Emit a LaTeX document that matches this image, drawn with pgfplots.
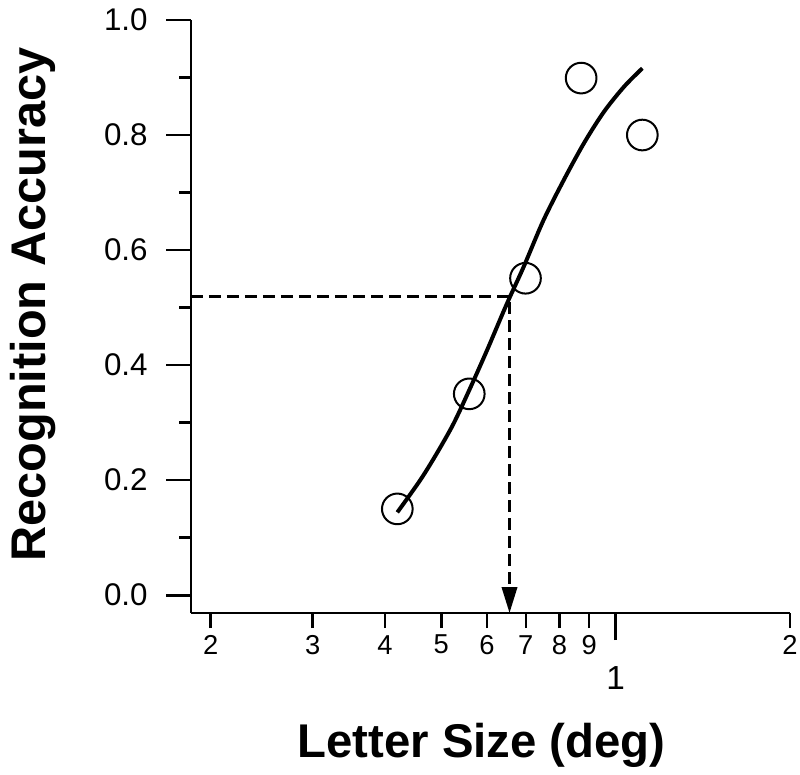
\documentclass[border=0pt]{standalone}
\usepackage{fontspec}
\setmainfont{Liberation Sans}
\usepackage{pgfplots}
\pgfplotsset{compat=1.18}
\usetikzlibrary{arrows.meta}

\begin{document}
\begin{tikzpicture}
% 1 px of the reference = 0.3pt
\useasboundingbox (-57.3pt,-48.3pt) rectangle (182.7pt,183.9pt);
\begin{axis}[
  at={(0,0)}, anchor=south west,
  scale only axis, width=179.7pt, height=177.9pt,
  xmode=log, xmin=0.185, xmax=2.0, ymin=-0.031, ymax=1.0,
  axis lines=left, axis line style={-, line width=0.8pt},
  every tick/.style={black, line width=0.8pt},
  tick align=outside,
  major tick length=4.5pt, minor tick length=3.6pt,
  ytick={0,0.2,0.4,0.6,0.8,1.0}, minor y tick num=1,
  ytick style={/pgfplots/major tick length=7.5pt},
  yticklabel style={font=\fontsize{9.4}{11}\selectfont, anchor=east, xshift=-5pt,
    /pgf/number format/.cd, fixed, fixed zerofill, precision=1, assume math mode=true},
  xtick={0.2,0.3,0.4,0.5,0.6,0.7,0.8,0.9,2},
  xticklabels={2,3,4,5,6,7,8,9,2},
  minor xtick={},
  xticklabel style={font=\fontsize{8.2}{10}\selectfont, anchor=center, yshift=-5pt},
  extra x ticks={1}, extra x tick labels={1},
  extra x tick style={/pgfplots/major tick length=8.1pt,
    xticklabel style={font=\fontsize{10}{12}\selectfont, yshift=-6.3pt}},
  xlabel={\bfseries Letter Size (deg)},
  ylabel={\bfseries Recognition Accuracy},
  every axis x label/.style={at={(axis description cs:0.485,0)}, yshift=-39.6pt,
    anchor=center, font=\fontsize{14.2}{17}\selectfont},
  every axis y label/.style={at={(axis description cs:0,0.52)}, xshift=-47.4pt,
    rotate=90, anchor=center, font=\fontsize{14.6}{17}\selectfont},
  clip=false,
]
% fitted curve
\addplot[black, line width=1.2pt, smooth] coordinates {
  (0.420,0.144) (0.460,0.200) (0.491,0.246) (0.525,0.298) (0.561,0.360)
  (0.600,0.426) (0.641,0.494) (0.656,0.517) (0.694,0.571) (0.751,0.652)
  (0.814,0.722) (0.882,0.786) (0.954,0.840) (1.034,0.884) (1.112,0.916)};
% observed data
\addplot[only marks, mark=o, mark size=4.6pt, mark options={line width=0.6pt, black}] coordinates {
  (0.420,0.150) (0.559,0.350) (0.699,0.551) (0.872,0.899) (1.112,0.800)};
% threshold
\addplot[black, line width=0.8pt, dash pattern=on 3.6pt off 1.8pt,
  -{Triangle[length=7.8pt,width=4.6pt]}] coordinates {
  (0.185,0.519) (0.656,0.519) (0.656,-0.031)};
\end{axis}
\end{tikzpicture}
\end{document}
